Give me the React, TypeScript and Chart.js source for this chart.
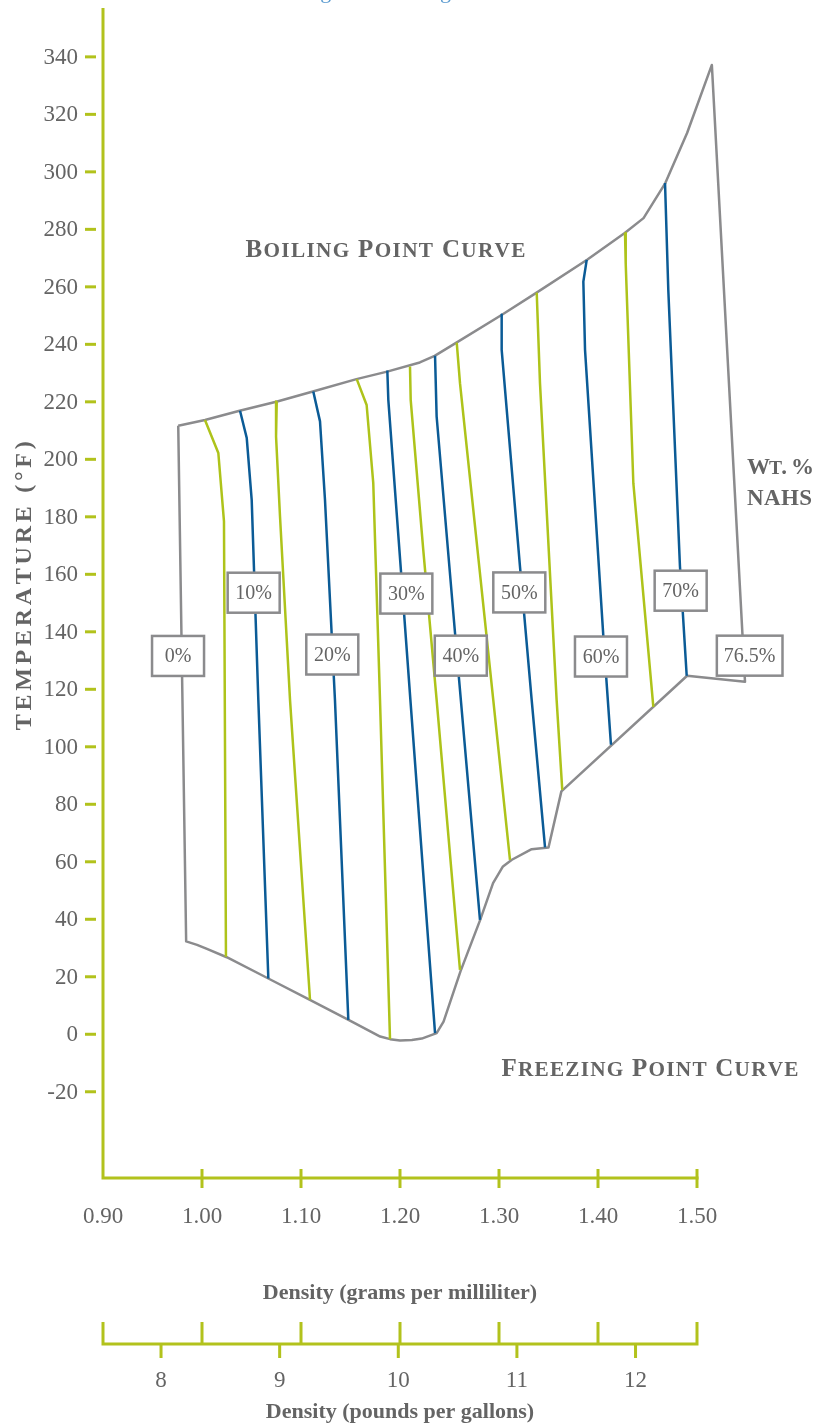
import React, { useEffect, useRef } from 'react';
import { Chart, registerables } from 'chart.js';

Chart.register(...registerables);

const FONT = '"Liberation Serif", "Times New Roman", serif';
const AXIS_GREEN = '#b2c21c';
const LINE_GREEN = '#aec31a';
const LINE_BLUE = '#0b5b96';
const OUTLINE_GRAY = '#8b8b8d';
const TEXT_GRAY = '#646464';
const TITLE_BLUE = '#5b9bd0';

// ---------- axes ----------
const chartTitle = 'Boiling and Freezing Points of NaHS in Water';
const densityTicks = [0.9, 1.0, 1.1, 1.2, 1.3, 1.4, 1.5];
const poundTicks = [8, 9, 10, 11, 12];
const tempTicks = [-20, 0, 20, 40, 60, 80, 100, 120, 140, 160, 180, 200, 220, 240, 260, 280, 300, 320, 340];
const LB_PER_GAL_PER_G_ML = 8.3454;
const densityMin = 0.9;
const densityMax = 1.5;
const tempMin = -50;
const tempMax = 357;
const xTitle = 'Density (grams per milliliter)';
const x2Title = 'Density (pounds per gallons)';
const yTitle = 'TEMPERATURE (°F)';

// ---------- boundary (boiling curve, right edge, freezing curve, left edge) ----------
const boundaryDensity = [0.976, 1.003, 1.038, 1.076, 1.112, 1.156, 1.187, 1.220, 1.235, 1.257, 1.303, 1.338, 1.389, 1.427, 1.446, 1.468, 1.490, 1.515, 1.5485, 1.490, 1.363, 1.350, 1.333, 1.313, 1.304, 1.294, 1.281, 1.261, 1.244, 1.237, 1.222, 1.212, 1.200, 1.190, 1.180, 1.148, 1.109, 1.067, 1.025, 1.005, 0.995, 0.984, 0.976];
const boundaryTemp = [211.7, 213.7, 216.9, 220.1, 223.6, 227.9, 230.5, 233.7, 236.0, 240.6, 250.3, 258.0, 269.4, 278.7, 283.9, 296.1, 313.5, 337.2, 122.6, 124.7, 84.5, 65.0, 64.4, 60.7, 58.4, 52.6, 39.8, 21.8, 4.4, 0.4, -1.5, -2.0, -2.2, -1.7, -0.8, 5.0, 12.0, 19.4, 26.8, 29.7, 31.1, 32.3, 211.7];

// ---------- constant wt.% NaHS lines ----------
const wt5Density = [1.003, 1.0165, 1.0222, 1.0242];
const wt5Temp = [213.7, 202.2, 178.4, 27.0];
const wt10Density = [1.0384, 1.0452, 1.0502, 1.0569, 1.0670];
const wt10Temp = [216.9, 207.4, 185.9, 116.3, 19.4];
const wt15Density = [1.0755, 1.0748, 1.0788, 1.0889, 1.1091];
const wt15Temp = [220.1, 207.9, 180.1, 116.3, 12.0];
const wt20Density = [1.1124, 1.1192, 1.1242, 1.1343, 1.1478];
const wt20Temp = [223.6, 213.2, 186.1, 116.3, 5.0];
const wt25Density = [1.1563, 1.1663, 1.1730, 1.1798, 1.1899];
const wt25Temp = [227.9, 218.9, 191.7, 116.3, -1.7];
const wt30Density = [1.1872, 1.1882, 1.2010, 1.2105, 1.2354];
const wt30Temp = [230.9, 220.7, 161.0, 116.3, 0.4];
const wt35Density = [1.2101, 1.2108, 1.2235, 1.2370, 1.2606];
const wt35Temp = [232.3, 220.7, 168.5, 116.3, 22.4];
const wt40Density = [1.2354, 1.2370, 1.2556, 1.2808];
const wt40Temp = [236.0, 214.9, 139.5, 39.8];
const wt45Density = [1.2573, 1.2606, 1.2942, 1.3111];
const wt45Temp = [240.6, 226.5, 116.3, 60.7];
const wt50Density = [1.3027, 1.3027, 1.3212, 1.3330, 1.3465];
const wt50Temp = [250.3, 238.1, 162.7, 116.3, 65.0];
const wt55Density = [1.3381, 1.3414, 1.3582, 1.3639];
const wt55Temp = [258.0, 226.5, 116.3, 85.0];
const wt60Density = [1.3886, 1.3852, 1.3869, 1.4054, 1.4131];
const wt60Temp = [269.4, 261.8, 238.1, 138.4, 100.7];
const wt65Density = [1.4273, 1.4280, 1.4357, 1.4559];
const wt65Temp = [278.7, 268.0, 191.7, 113.9];
const wt70Density = [1.4677, 1.4710, 1.4828, 1.4896];
const wt70Temp = [296.1, 259.0, 162.7, 124.7];

const isolines = [
  { pct: 5, d: wt5Density, t: wt5Temp },
  { pct: 10, d: wt10Density, t: wt10Temp },
  { pct: 15, d: wt15Density, t: wt15Temp },
  { pct: 20, d: wt20Density, t: wt20Temp },
  { pct: 25, d: wt25Density, t: wt25Temp },
  { pct: 30, d: wt30Density, t: wt30Temp },
  { pct: 35, d: wt35Density, t: wt35Temp },
  { pct: 40, d: wt40Density, t: wt40Temp },
  { pct: 45, d: wt45Density, t: wt45Temp },
  { pct: 50, d: wt50Density, t: wt50Temp },
  { pct: 55, d: wt55Density, t: wt55Temp },
  { pct: 60, d: wt60Density, t: wt60Temp },
  { pct: 65, d: wt65Density, t: wt65Temp },
  { pct: 70, d: wt70Density, t: wt70Temp },
];

// ---------- labels ----------
const labelTexts = ['0%', '10%', '20%', '30%', '40%', '50%', '60%', '70%', '76.5%'];
const labelDensity = [0.9758, 1.0522, 1.1316, 1.2064, 1.2614, 1.3205, 1.4030, 1.4835, 1.5532];
const labelTemp = [131.6, 153.6, 132.1, 153.3, 131.7, 153.7, 131.4, 154.3, 131.7];

const boilingText = 'Boiling Point Curve';
const freezingText = 'Freezing Point Curve';
const wtText = ['Wt. %', 'NAHS'];

function drawCaps(ctx: CanvasRenderingContext2D, text: string, x: number, y: number, size: number, align: string, targetWidth: number, color: string) {
  const parts: { ch: string; size: number; w: number }[] = [];
  let natural = 0;
  for (const ch of text) {
    const small = ch !== ch.toUpperCase();
    const s = small ? size * 0.85 : size;
    ctx.font = `bold ${s}px ${FONT}`;
    const w = ctx.measureText(ch.toUpperCase()).width;
    parts.push({ ch: ch.toUpperCase(), size: s, w });
    natural += w;
  }
  const gaps = parts.length - 1;
  const spacing = targetWidth && gaps > 0 ? (targetWidth - natural) / gaps : 0;
  const total = natural + spacing * gaps;
  let cx = align === 'center' ? x - total / 2 : align === 'right' ? x - total : x;
  ctx.fillStyle = color;
  ctx.textAlign = 'left';
  ctx.textBaseline = 'alphabetic';
  for (const p of parts) {
    ctx.font = `bold ${p.size}px ${FONT}`;
    ctx.fillText(p.ch, cx, y);
    cx += p.w + spacing;
  }
}

const overlayPlugin = {
  id: 'overlay',
  beforeDatasetsDraw(chart: any) {
    const { ctx, chartArea } = chart;
    const xs = chart.scales.x;
    const ys = chart.scales.y;
    const ax = xs.getPixelForValue(densityMin);
    const axR = xs.getPixelForValue(densityMax);
    const ay = ys.getPixelForValue(tempMin);
    ctx.save();
    ctx.strokeStyle = AXIS_GREEN;
    ctx.lineWidth = 3;
    ctx.lineCap = 'butt';
    // axis lines
    ctx.beginPath();
    ctx.moveTo(ax, chartArea.top);
    ctx.lineTo(ax, ay + 1.5);
    ctx.moveTo(ax - 1.5, ay);
    ctx.lineTo(axR + 1.5, ay);
    ctx.stroke();
    // y ticks
    ctx.fillStyle = TEXT_GRAY;
    ctx.font = `23px ${FONT}`;
    ctx.textAlign = 'right';
    ctx.textBaseline = 'middle';
    for (const t of tempTicks) {
      const py = ys.getPixelForValue(t);
      ctx.beginPath();
      ctx.moveTo(ax - 18, py);
      ctx.lineTo(ax - 7, py);
      ctx.stroke();
      ctx.fillText(String(t), ax - 25, py + 1);
    }
    // x ticks (g/mL)
    ctx.textAlign = 'center';
    ctx.textBaseline = 'alphabetic';
    for (const d of densityTicks) {
      const px = xs.getPixelForValue(d);
      if (d !== densityMin) {
        ctx.beginPath();
        ctx.moveTo(px, ay - 9);
        ctx.lineTo(px, ay + 10);
        ctx.stroke();
      }
      ctx.fillText(d.toFixed(2), px, ay + 45);
    }
    ctx.font = `bold 22px ${FONT}`;
    ctx.fillText(xTitle, (ax + axR) / 2, ay + 121);
    // second axis (lb/gal)
    const y2 = ay + 166;
    ctx.beginPath();
    ctx.moveTo(ax - 1.5, y2);
    ctx.lineTo(axR + 1.5, y2);
    for (const d of densityTicks) {
      const px = xs.getPixelForValue(d);
      ctx.moveTo(px, y2 - 22);
      ctx.lineTo(px, y2);
    }
    for (const lb of poundTicks) {
      const px = xs.getPixelForValue(lb / LB_PER_GAL_PER_G_ML);
      ctx.moveTo(px, y2);
      ctx.lineTo(px, y2 + 14);
    }
    ctx.stroke();
    ctx.font = `23px ${FONT}`;
    for (const lb of poundTicks) {
      const px = xs.getPixelForValue(lb / LB_PER_GAL_PER_G_ML);
      ctx.fillText(String(lb), px, y2 + 43);
    }
    ctx.font = `bold 22px ${FONT}`;
    ctx.fillText(x2Title, (ax + axR) / 2, y2 + 74);
    // y title
    ctx.save();
    ctx.translate(31, ys.getPixelForValue(156));
    ctx.rotate(-Math.PI / 2);
    drawCaps(ctx, yTitle, 0, 0, 24, 'center', 289, TEXT_GRAY);
    ctx.restore();
    ctx.restore();
  },
  afterDatasetsDraw(chart: any) {
    const { ctx } = chart;
    const xs = chart.scales.x;
    const ys = chart.scales.y;
    ctx.save();
    // boxes
    for (let i = 0; i < labelTexts.length; i++) {
      const cx = xs.getPixelForValue(labelDensity[i]);
      const cy = ys.getPixelForValue(labelTemp[i]);
      ctx.font = `20px ${FONT}`;
      const tw = ctx.measureText(labelTexts[i]).width;
      const w = Math.max(52, tw + 14);
      const h = 40;
      ctx.fillStyle = '#ffffff';
      ctx.fillRect(cx - w / 2, cy - h / 2, w, h);
      ctx.strokeStyle = OUTLINE_GRAY;
      ctx.lineWidth = 2.5;
      ctx.strokeRect(cx - w / 2, cy - h / 2, w, h);
      ctx.fillStyle = TEXT_GRAY;
      ctx.textAlign = 'center';
      ctx.textBaseline = 'middle';
      ctx.fillText(labelTexts[i], cx, cy + 1);
    }
    // annotations
    drawCaps(ctx, boilingText, xs.getPixelForValue(1.1853), ys.getPixelForValue(270.5), 25, 'center', 280, TEXT_GRAY);
    drawCaps(ctx, freezingText, xs.getPixelForValue(1.4525), ys.getPixelForValue(-14.5), 25, 'center', 297, TEXT_GRAY);
    drawCaps(ctx, wtText[0], xs.getPixelForValue(1.5505), ys.getPixelForValue(195.0), 23, 'left', 67, TEXT_GRAY);
    drawCaps(ctx, wtText[1], xs.getPixelForValue(1.5505), ys.getPixelForValue(184.0), 23, 'left', 65, TEXT_GRAY);
    // chart title (mostly above the top of the page)
    ctx.font = `22px ${FONT}`;
    ctx.fillStyle = TITLE_BLUE;
    ctx.textAlign = 'center';
    ctx.textBaseline = 'alphabetic';
    ctx.fillText(chartTitle, 470, -2);
    ctx.restore();
  },
};

export default function App() {
  const ref = useRef<HTMLCanvasElement | null>(null);
  useEffect(() => {
    if (!ref.current) return;
    const toPts = (d: number[], t: number[]) => d.map((v, i) => ({ x: v, y: t[i] }));
    const datasets: any[] = isolines.map((l) => ({
      label: `${l.pct}%`,
      data: toPts(l.d, l.t),
      borderColor: l.pct % 10 === 0 ? LINE_BLUE : LINE_GREEN,
      borderWidth: 2.5,
      pointRadius: 0,
      showLine: true,
      fill: false,
      tension: 0,
      clip: false,
      borderJoinStyle: 'round',
    }));
    datasets.push({
      label: 'boundary',
      data: toPts(boundaryDensity, boundaryTemp),
      borderColor: OUTLINE_GRAY,
      borderWidth: 2.5,
      pointRadius: 0,
      showLine: true,
      fill: false,
      tension: 0,
      clip: false,
      borderJoinStyle: 'round',
    });
    const chart = new Chart(ref.current, {
      type: 'scatter',
      data: { datasets },
      options: {
        animation: false,
        responsive: false,
        devicePixelRatio: 1,
        events: [],
        layout: { padding: { left: 103, right: 125, top: 8, bottom: 250 } },
        plugins: { legend: { display: false }, tooltip: { enabled: false }, title: { display: false } },
        scales: {
          x: { type: 'linear', min: densityMin, max: densityMax, display: false },
          y: { type: 'linear', min: tempMin, max: tempMax, display: false },
        },
      } as any,
      plugins: [overlayPlugin],
    });
    return () => chart.destroy();
  }, []);
  return (
    <div style={{ position: 'absolute', left: 0, top: 0, width: 822, height: 1428, background: '#fff' }}>
      <canvas ref={ref} width={822} height={1428} style={{ display: 'block', width: 822, height: 1428 }} />
    </div>
  );
}
